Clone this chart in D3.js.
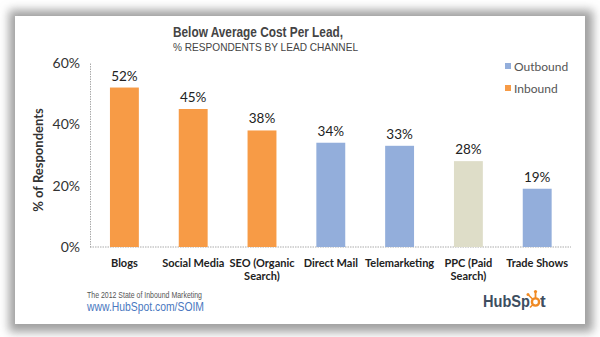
<!DOCTYPE html>
<html><head><meta charset="utf-8">
<script src="https://cdn.jsdelivr.net/npm/d3@7"></script>
<style>html,body{margin:0;padding:0;background:#fff;}svg{display:block;}</style>
</head><body>
<svg id="c" width="600" height="337"></svg>
<script>
const categories = [["Blogs"],["Social Media"],["SEO (Organic","Search)"],["Direct Mail"],["Telemarketing"],["PPC (Paid","Search)"],["Trade Shows"]];
const values = [52,45,38,34,33,28,19];
const groups = ["Inbound","Inbound","Inbound","Outbound","Outbound","Paid","Outbound"];
const yTicks = [0,20,40,60];
const legendItems = ["Outbound","Inbound"];
const colors = {Inbound:"#F79B46", Outbound:"#93AEDB", Paid:"#DEDDC8"};

const svg = d3.select("#c");
const defs = svg.append("defs");
const f = defs.append("filter").attr("id","sh").attr("x","-10%").attr("y","-10%").attr("width","120%").attr("height","120%");
f.append("feGaussianBlur").attr("stdDeviation",5);

svg.append("rect").attr("x",9).attr("y",10).attr("width",584).attr("height",322).attr("fill","#a0a0a0").attr("filter","url(#sh)");
svg.append("rect").attr("x",15).attr("y",16).attr("width",570).attr("height",308).attr("fill","#fff");

// titles
svg.append("text").attr("x",173).attr("y",37).attr("font-family","'Liberation Sans',sans-serif")
  .attr("font-size",14).attr("font-weight","bold").attr("fill","#444")
  .attr("textLength",170).attr("lengthAdjust","spacingAndGlyphs").text("Below Average Cost Per Lead,");
svg.append("text").attr("x",173).attr("y",51).attr("font-family","'Liberation Sans',sans-serif")
  .attr("font-size",11.5).attr("fill","#444")
  .attr("textLength",185).attr("lengthAdjust","spacingAndGlyphs").text("% RESPONDENTS BY LEAD CHANNEL");

const x = d3.scaleBand().domain(d3.range(values.length)).range([90,571.6]).paddingInner(0.58).paddingOuter(0.29);
const y = d3.scaleLinear().domain([0,60]).range([247,63]);

// y axis
const ya = svg.append("g").attr("transform","translate(90,0)").call(d3.axisLeft(y).tickValues(yTicks).tickFormat(d=>d+"%").tickSize(0).tickPadding(10));
ya.select(".domain").attr("stroke","#aaa").attr("stroke-dasharray","1.5,1");
ya.selectAll("text").attr("font-family","Lato,sans-serif").attr("font-size",14).attr("fill","#333");

// x axis line
svg.append("line").attr("x1",90).attr("x2",571).attr("y1",y(0)).attr("y2",y(0)).attr("stroke","#aaa").attr("stroke-dasharray","1.5,1");

svg.append("text").attr("transform","translate(43,160) rotate(-90)").attr("text-anchor","middle")
  .attr("font-family","Lato,sans-serif").attr("font-weight","bold").attr("font-size",13).attr("fill","#333").text("% of Respondents");

// bars
svg.selectAll("rect.bar").data(values).join("rect").attr("class","bar")
  .attr("x",(d,i)=>x(i)).attr("width",x.bandwidth()).attr("y",d=>y(d)).attr("height",d=>y(0)-y(d))
  .attr("fill",(d,i)=>colors[groups[i]]);

svg.selectAll("text.val").data(values).join("text").attr("class","val")
  .attr("x",(d,i)=>x(i)+x.bandwidth()/2).attr("y",d=>y(d)-7).attr("text-anchor","middle")
  .attr("font-family","Lato,sans-serif").attr("font-size",13.5).attr("fill","#222").text(d=>d+"%");

// category labels
const cl = svg.selectAll("text.cat").data(categories).join("text").attr("class","cat")
  .attr("text-anchor","middle").attr("font-family","Lato,sans-serif").attr("font-weight","bold").attr("font-size",11).attr("fill","#222");
cl.each(function(lines,i){
  d3.select(this).selectAll("tspan").data(lines).join("tspan")
    .attr("x",x(i)+x.bandwidth()/2).attr("y",(l,j)=>267+j*13).text(l=>l);
});

// legend
const lg = svg.selectAll("g.lg").data(legendItems).join("g").attr("class","lg")
  .attr("transform",(d,i)=>`translate(505,${66+i*22})`);
lg.append("rect").attr("x",0).attr("y",-3).attr("width",6).attr("height",6).attr("fill",d=>colors[d]);
lg.append("text").attr("x",9).attr("y",4.5).attr("font-family","Lato,sans-serif").attr("font-size",12).attr("fill","#555").text(d=>d);

// footer
svg.append("text").attr("x",87).attr("y",298).attr("font-family","'Liberation Sans',sans-serif").attr("font-size",8.5).attr("fill","#555")
  .attr("textLength",115).attr("lengthAdjust","spacingAndGlyphs").text("The 2012 State of Inbound Marketing");
svg.append("text").attr("x",87).attr("y",311).attr("font-family","'Liberation Sans',sans-serif").attr("font-size",12.5).attr("fill","#4a78c0")
  .attr("textLength",117).attr("lengthAdjust","spacingAndGlyphs").text("www.HubSpot.com/SOIM");

// logo: "HubSp" + orange sprocket + "t"
const logo = svg.append("g");
const t1 = logo.append("text").attr("x",483).attr("y",307).attr("font-family","'Liberation Sans',sans-serif").attr("font-weight","bold").attr("font-size",17).attr("fill","#3d4e60")
  .attr("textLength",47).attr("lengthAdjust","spacingAndGlyphs").text("HubSp");
const cx = 483+47+5.5, cy = 302;
logo.append("circle").attr("cx",cx).attr("cy",cy).attr("r",3.6).attr("fill","none").attr("stroke","#f08a24").attr("stroke-width",2.4);
logo.append("line").attr("x1",cx).attr("y1",cy-3).attr("x2",cx).attr("y2",cy-10).attr("stroke","#f08a24").attr("stroke-width",1.8);
logo.append("circle").attr("cx",cx).attr("cy",cy-10.5).attr("r",1.6).attr("fill","#f08a24");
logo.append("line").attr("x1",cx-2.5).attr("y1",cy-2.5).attr("x2",cx-7).attr("y2",cy-7).attr("stroke","#f08a24").attr("stroke-width",1.6);
logo.append("circle").attr("cx",cx-7.5).attr("cy",cy-7.5).attr("r",1.5).attr("fill","#f08a24");
logo.append("line").attr("x1",cx-2.5).attr("y1",cy+2.5).attr("x2",cx-5.5).attr("y2",cy+5.5).attr("stroke","#f08a24").attr("stroke-width",1.6);
logo.append("text").attr("x",cx+4.5).attr("y",307).attr("font-family","'Liberation Sans',sans-serif").attr("font-weight","bold").attr("font-size",17).attr("fill","#3d4e60").text("t");
</script>
</body></html>
